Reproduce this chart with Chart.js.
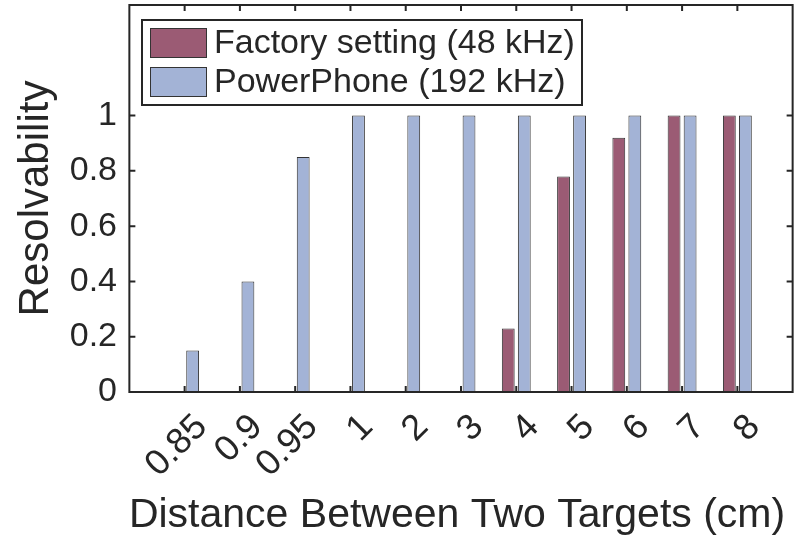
<!DOCTYPE html>
<html>
<head>
<meta charset="utf-8">
<script src="https://cdn.jsdelivr.net/npm/chart.js@4/dist/chart.umd.min.js"></script>
<style>
  body { margin: 0; background: #fff; }
</style>
</head>
<body>
<canvas id="grafico" width="800" height="537"></canvas>
<script>
// Datos del grafico
const distancias = ['0.85', '0.9', '0.95', '1', '2', '3', '4', '5', '6', '7', '8'];
const fabrica = [0, 0, 0, 0, 0, 0, 0.23, 0.78, 0.92, 1, 1];
const powerPhone = [0.15, 0.4, 0.85, 1, 1, 1, 1, 1, 1, 1, 1];
const nombresSeries = ['Factory setting (48 kHz)', 'PowerPhone (192 kHz)'];
const coloresSeries = ['#9b5b74', '#a3b3d6'];
const tituloX = 'Distance Between Two Targets (cm)';

const FUENTE = '"Liberation Sans", Arial, sans-serif';
const TINTA = '#262626';

// Marco tipo MATLAB (medio paso mas ancho que el area de barras),
// marcas hacia adentro, titulo x y leyenda dentro del area
const marcoYLeyenda = {
    id: 'marcoYLeyenda',
    afterDraw(chart) {
        const ctx = chart.ctx;
        const area = chart.chartArea;
        const x = chart.scales.x;
        const y = chart.scales.y;
        const medioPaso = (area.right - area.left) / distancias.length / 2;
        const izq = area.left - medioPaso;
        const der = area.right + medioPaso;
        ctx.save();
        ctx.strokeStyle = TINTA;
        ctx.lineWidth = 2;
        ctx.strokeRect(izq, area.top, der - izq, area.bottom - area.top);

        // marcas del eje x (abajo y arriba)
        ctx.beginPath();
        x.ticks.forEach((t, i) => {
            const px = x.getPixelForTick(i);
            ctx.moveTo(px, area.bottom); ctx.lineTo(px, area.bottom - 6);
            ctx.moveTo(px, area.top); ctx.lineTo(px, area.top + 6);
        });
        // marcas del eje y (izquierda y derecha)
        y.ticks.forEach(t => {
            const py = y.getPixelForValue(t.value);
            ctx.moveTo(izq, py); ctx.lineTo(izq + 6, py);
            ctx.moveTo(der, py); ctx.lineTo(der - 6, py);
        });
        ctx.stroke();

        // titulo del eje x (sin recorte de ancho)
        ctx.fillStyle = TINTA;
        ctx.font = '41px ' + FUENTE;
        ctx.textAlign = 'center';
        ctx.textBaseline = 'alphabetic';
        ctx.fillText(tituloX, 457, 527);

        // leyenda
        ctx.textAlign = 'left';
        ctx.fillStyle = '#ffffff';
        ctx.fillRect(142, 20, 440, 85);
        ctx.strokeRect(142, 20, 440, 85);
        ctx.font = '34px ' + FUENTE;
        ctx.textBaseline = 'middle';
        nombresSeries.forEach((nombre, i) => {
            const cy = 43 + i * 39;
            ctx.fillStyle = coloresSeries[i];
            ctx.fillRect(150, cy - 15, 57, 30);
            ctx.lineWidth = 1;
            ctx.strokeStyle = '#333333';
            ctx.strokeRect(150.5, cy - 14.5, 56, 29);
            ctx.fillStyle = TINTA;
            ctx.fillText(nombre, 214, cy + 1);
        });
        ctx.restore();
    }
};

function generarGrafico() {
    const ctx = document.getElementById('grafico').getContext('2d');
    return new Chart(ctx, {
        type: 'bar',
        data: {
            labels: distancias,
            datasets: [{
                label: nombresSeries[0],
                data: fabrica,
                backgroundColor: coloresSeries[0],
                borderColor: '#333333',
                borderWidth: 1,
                barPercentage: 0.8,
                categoryPercentage: 0.58
            }, {
                label: nombresSeries[1],
                data: powerPhone,
                backgroundColor: coloresSeries[1],
                borderColor: '#333333',
                borderWidth: 1,
                barPercentage: 0.8,
                categoryPercentage: 0.58
            }]
        },
        options: {
            responsive: false,
            animation: false,
            layout: { padding: { top: 5, right: 35, left: 0, bottom: 0 } },
            plugins: {
                legend: { display: false },
                tooltip: { enabled: false }
            },
            scales: {
                x: {
                    grid: { display: false, drawTicks: false },
                    border: { display: false },
                    ticks: {
                        color: TINTA,
                        font: { family: FUENTE, size: 36 },
                        autoSkip: false,
                        maxRotation: 45,
                        minRotation: 45,
                        padding: 14,
                        labelOffset: 17
                    },
                    afterFit(scale) {
                        scale.height = 145;
                        scale.paddingLeft = 0;
                        scale.paddingRight = 0;
                    }
                },
                y: {
                    min: 0,
                    max: 1.4,
                    grid: { display: false, drawTicks: false },
                    border: { display: false },
                    ticks: {
                        stepSize: 0.2,
                        color: TINTA,
                        font: { family: FUENTE, size: 34 },
                        padding: 40,
                        callback: (v) => String(Number(v.toFixed(2)))
                    },
                    afterBuildTicks(scale) {
                        scale.ticks = scale.ticks.filter(t => t.value <= 1.0001);
                    },
                    title: {
                        display: true,
                        text: 'Resolvability',
                        color: TINTA,
                        font: { family: FUENTE, size: 42 },
                        padding: { top: 11, bottom: 0 }
                    },
                    afterFit(scale) {
                        scale.width = 157;
                        scale.paddingTop = 0;
                        scale.paddingBottom = 0;
                    }
                }
            }
        },
        plugins: [marcoYLeyenda]
    });
}

const grafico = generarGrafico();
</script>
</body>
</html>
